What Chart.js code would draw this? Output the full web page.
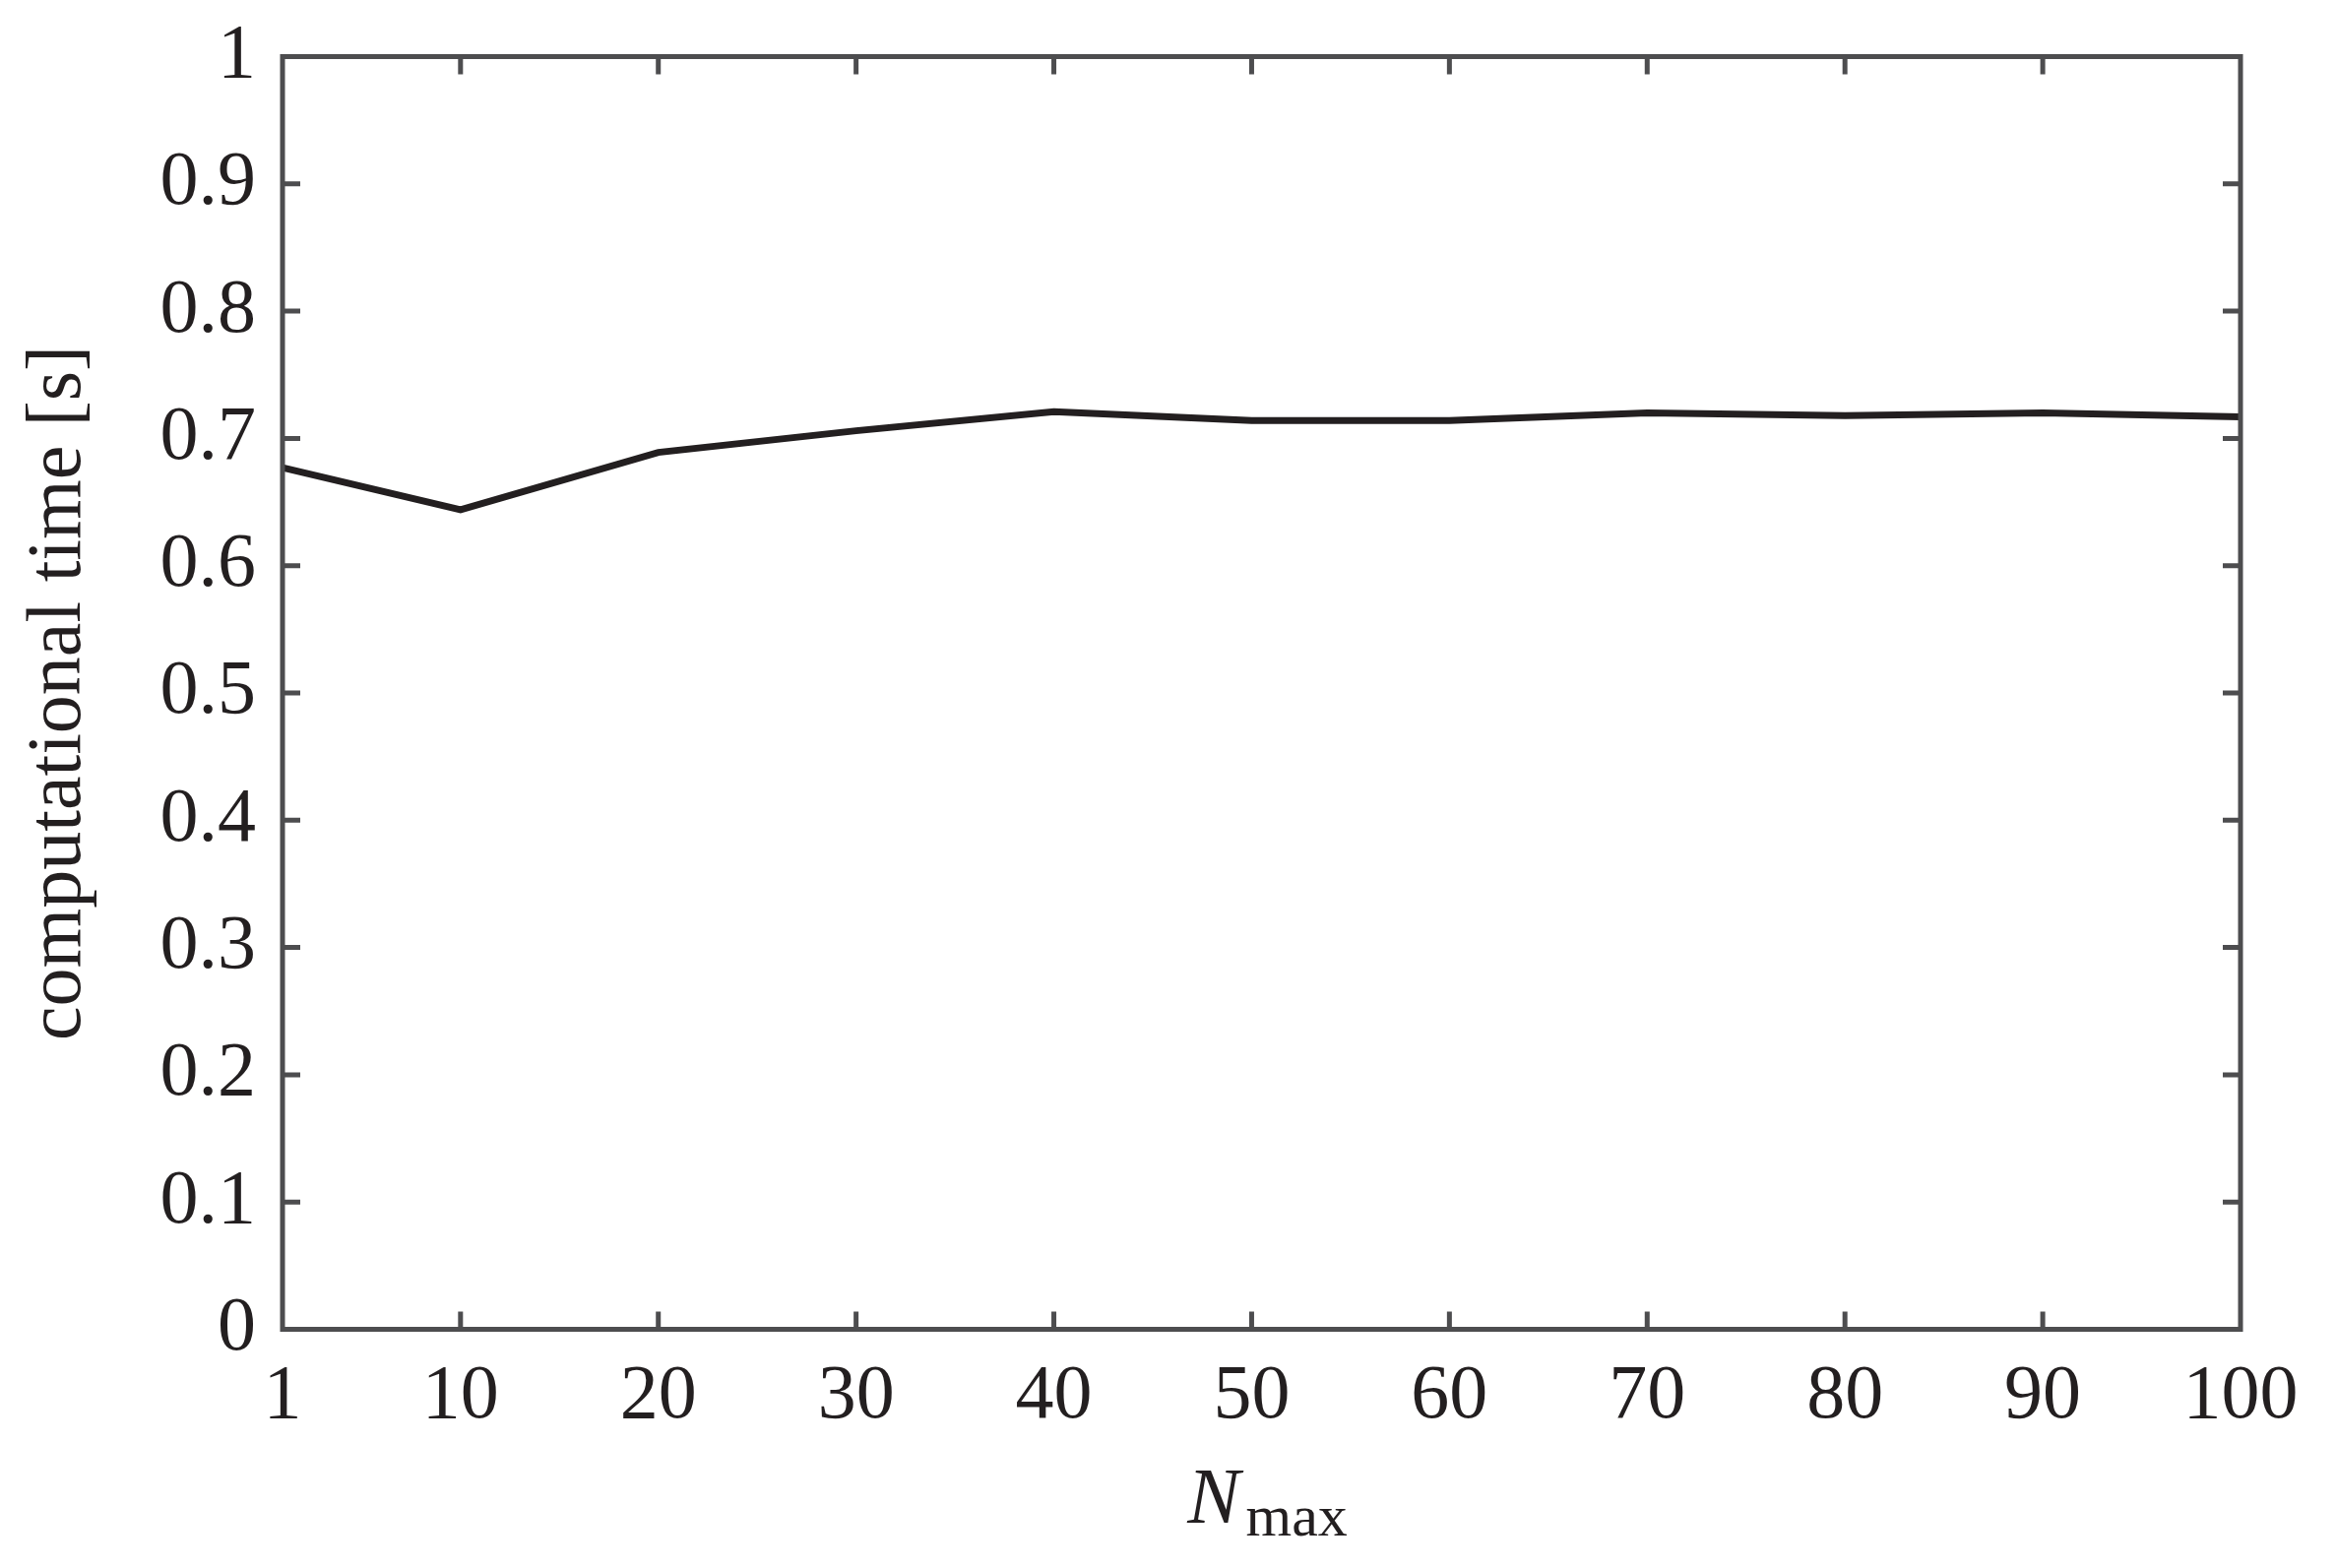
<!DOCTYPE html>
<html>
<head>
<meta charset="utf-8">
<script src="https://cdn.jsdelivr.net/npm/chart.js@4.4.1/dist/chart.umd.min.js"></script>
<style>
  html, body { margin: 0; padding: 0; background: #ffffff; }
  #wrap { width: 2373px; height: 1593px; position: relative; }
</style>
</head>
<body>
<div id="wrap"><canvas id="myChart" width="2373" height="1593"></canvas></div>
<script>
// data
var nMax = [1, 10, 20, 30, 40, 50, 60, 70, 80, 90, 100];
var compTime = [0.677, 0.644, 0.689, 0.706, 0.721, 0.714, 0.714, 0.720, 0.718, 0.720, 0.717];
var xTicks = [1, 10, 20, 30, 40, 50, 60, 70, 80, 90, 100];
var yTicks = [0, 0.1, 0.2, 0.3, 0.4, 0.5, 0.6, 0.7, 0.8, 0.9, 1];

var frameColor = "#4d4d4f";
var inkColor = "#231f20";
var serif = '"Liberation Serif", "Times New Roman", serif';

// box + inward ticks on all four sides, and the N_max label
var framePlugin = {
  id: "frame",
  afterDraw: function (chart) {
    var ctx = chart.ctx;
    var a = chart.chartArea;
    var xs = chart.scales.x;
    var ys = chart.scales.y;
    var tl = 18;
    ctx.save();
    ctx.strokeStyle = frameColor;
    ctx.lineWidth = 5;
    ctx.lineCap = "butt";
    ctx.beginPath();
    xTicks.forEach(function (v) {
      if (v === xs.min || v === xs.max) return;
      var px = xs.getPixelForValue(v);
      ctx.moveTo(px, a.bottom);
      ctx.lineTo(px, a.bottom - tl);
      ctx.moveTo(px, a.top);
      ctx.lineTo(px, a.top + tl);
    });
    yTicks.forEach(function (v) {
      if (v === ys.min || v === ys.max) return;
      var py = ys.getPixelForValue(v);
      ctx.moveTo(a.left, py);
      ctx.lineTo(a.left + tl, py);
      ctx.moveTo(a.right, py);
      ctx.lineTo(a.right - tl, py);
    });
    ctx.stroke();
    ctx.lineJoin = "miter";
    ctx.strokeRect(a.left, a.top, a.right - a.left, a.bottom - a.top);

    // x axis title: italic N with subscript "max"
    ctx.fillStyle = inkColor;
    ctx.textBaseline = "alphabetic";
    ctx.textAlign = "left";
    ctx.font = "italic 80px " + serif;
    var wN = ctx.measureText("N").width;
    ctx.font = "60px " + serif;
    var wSub = ctx.measureText("max").width;
    var gap = 6;
    var cx = (a.left + a.right) / 2 + 6;
    var x0 = cx - (wN + gap + wSub) / 2;
    ctx.font = "italic 80px " + serif;
    ctx.fillText("N", x0, a.bottom + 196);
    ctx.font = "60px " + serif;
    ctx.fillText("max", x0 + wN + gap, a.bottom + 209);
    ctx.restore();
  }
};

var ctx = document.getElementById("myChart").getContext("2d");
var chart = new Chart(ctx, {
  type: "line",
  data: {
    datasets: [
      {
        label: "computational time",
        data: nMax.map(function (n, i) { return { x: n, y: compTime[i] }; }),
        borderColor: inkColor,
        borderWidth: 7,
        pointRadius: 0,
        tension: 0,
        fill: false,
        clip: 4
      }
    ]
  },
  options: {
    responsive: false,
    animation: false,
    events: [],
    layout: { padding: { top: 57.5, right: 97, left: 0, bottom: 0 } },
    plugins: {
      legend: { display: false },
      tooltip: { enabled: false }
    },
    scales: {
      x: {
        type: "linear",
        min: 1,
        max: 100,
        afterBuildTicks: function (scale) {
          scale.ticks = xTicks.map(function (v) { return { value: v }; });
        },
        afterFit: function (scale) { scale.height = 242.5; },
        grid: { display: false, drawTicks: false },
        border: { display: false },
        ticks: {
          color: inkColor,
          padding: 22,
          maxRotation: 0,
          autoSkip: false,
          font: { family: serif, size: 78 },
          callback: function (v) { return String(v); }
        }
      },
      y: {
        type: "linear",
        min: 0,
        max: 1,
        afterBuildTicks: function (scale) {
          scale.ticks = yTicks.map(function (v) { return { value: v }; });
        },
        afterFit: function (scale) {
          scale.width = 287;
          scale.paddingTop = 0;
          scale.paddingBottom = 0;
        },
        grid: { display: false, drawTicks: false },
        border: { display: false },
        ticks: {
          color: inkColor,
          padding: 27,
          autoSkip: false,
          font: { family: serif, size: 78 },
          callback: function (v) {
            if (v === 0 || v === 1) return String(v);
            return v.toFixed(1);
          }
        },
        title: {
          display: true,
          text: "computational time [s]",
          color: inkColor,
          font: { family: serif, size: 78 },
          padding: { top: 14, bottom: 0 }
        }
      }
    }
  },
  plugins: [framePlugin]
});
</script>
</body>
</html>
